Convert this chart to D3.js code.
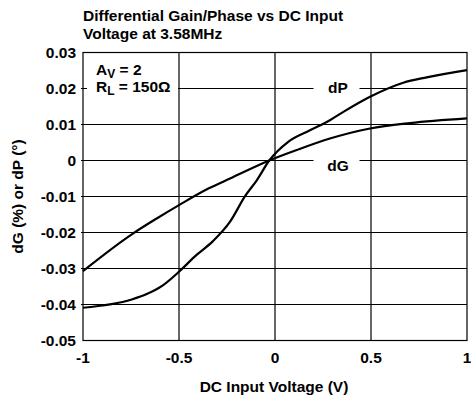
<!DOCTYPE html>
<html>
<head>
<meta charset="utf-8">
<script src="https://cdn.jsdelivr.net/npm/d3@7"></script>
<style>
  body { margin: 0; background: #fff; }
  text { font-family: "Liberation Sans", Arial, sans-serif; font-weight: bold; fill: #000; }
</style>
</head>
<body>
<div id="chart"></div>
<script>
// valores
const dgX = [-1, -0.746, -0.616, -0.5, -0.347, -0.234, -0.03, 0.113, 0.286, 0.495, 0.703, 1];
const dgY = [-0.0307, -0.0205, -0.0161, -0.0124, -0.0078, -0.005, 0, 0.0029, 0.0061, 0.0089, 0.0104, 0.0117];
const dpX = [-1, -0.746, -0.668, -0.59, -0.5, -0.41, -0.323, -0.234, -0.156, -0.095, -0.03, 0.069, 0.182, 0.286, 0.356, 0.495, 0.668, 0.79, 1];
const dpY = [-0.0409, -0.0386, -0.0371, -0.0349, -0.0309, -0.0263, -0.0224, -0.017, -0.0099, -0.0055, 0, 0.0052, 0.0084, 0.0112, 0.0135, 0.0177, 0.0216, 0.0231, 0.0251];
const xTicks = [-1, -0.5, 0, 0.5, 1];
const xTickLabels = ["-1", "-0.5", "0", "0.5", "1"];
const yTicks = [0.03, 0.02, 0.01, 0, -0.01, -0.02, -0.03, -0.04, -0.05];
const yTickLabels = ["0.03", "0.02", "0.01", "0", "-0.01", "-0.02", "-0.03", "-0.04", "-0.05"];

const W = 471, H = 400;
const m = { left: 83, right: 4, top: 52.5, bottom: 59.5 };

const svg = d3.select("#chart").append("svg")
    .attr("width", W).attr("height", H);

const x = d3.scaleLinear([-1, 1], [m.left, W - m.right]);
const y = d3.scaleLinear([-0.05, 0.03], [H - m.bottom, m.top]);

// grade
const grid = svg.append("g").attr("stroke", "#000").attr("stroke-width", 1.2);
grid.selectAll(".gx").data(xTicks.slice(1, -1)).join("line")
    .attr("x1", d => x(d)).attr("x2", d => x(d))
    .attr("y1", y(0.03)).attr("y2", y(-0.05));
grid.selectAll(".gy").data(yTicks.slice(1, -1)).join("line")
    .attr("x1", x(-1) - 2).attr("x2", x(1))
    .attr("y1", d => y(d)).attr("y2", d => y(d));

// caixas brancas atrás dos rótulos
svg.append("rect").attr("x", 87).attr("y", y(0.02) - 5).attr("width", x(-0.5) - 87 - 1).attr("height", 10).attr("fill", "#fff");
svg.append("rect").attr("x", 313.5).attr("y", y(0.02) - 5).attr("width", 46).attr("height", 10).attr("fill", "#fff");
svg.append("rect").attr("x", 313.5).attr("y", y(0) - 5).attr("width", 46).attr("height", 10).attr("fill", "#fff");

svg.append("rect")
    .attr("x", x(-1)).attr("y", y(0.03))
    .attr("width", x(1) - x(-1)).attr("height", y(-0.05) - y(0.03))
    .attr("fill", "none").attr("stroke", "#000").attr("stroke-width", 1.2);

// curvas
const line = d3.line().x(d => x(d[0])).y(d => y(d[1])).curve(d3.curveMonotoneX);
svg.append("path").datum(d3.zip(dgX, dgY)).attr("d", line)
    .attr("fill", "none").attr("stroke", "#000").attr("stroke-width", 2.2);
svg.append("path").datum(d3.zip(dpX, dpY)).attr("d", line)
    .attr("fill", "none").attr("stroke", "#000").attr("stroke-width", 2.2);

// rótulos dos eixos
const fs = 15.5;
svg.selectAll(".xt").data(xTicks).join("text")
    .attr("x", d => x(d)).attr("y", 363)
    .attr("text-anchor", "middle").attr("font-size", fs)
    .text((d, i) => xTickLabels[i]);
svg.selectAll(".yt").data(yTicks).join("text")
    .attr("x", 76).attr("y", d => y(d) + 5)
    .attr("text-anchor", "end").attr("font-size", fs)
    .text((d, i) => yTickLabels[i]);

svg.append("text").attr("x", 274).attr("y", 392)
    .attr("text-anchor", "middle").attr("font-size", fs)
    .text("DC Input Voltage (V)");
svg.append("text").attr("transform", `translate(23,${(y(0.03) + y(-0.05)) / 2}) rotate(-90)`)
    .attr("text-anchor", "middle").attr("font-size", fs)
    .text("dG (%) or dP (°)");

svg.append("text").attr("x", 83).attr("y", 21).attr("font-size", fs)
    .text("Differential Gain/Phase vs DC Input");
svg.append("text").attr("x", 83).attr("y", 39).attr("font-size", fs)
    .text("Voltage at 3.58MHz");

const av = svg.append("text").attr("x", 96).attr("y", 75).attr("font-size", fs);
av.append("tspan").text("A");
av.append("tspan").attr("font-size", 12).attr("dy", 3).text("V");
av.append("tspan").attr("dy", -3).text(" = 2");
const rl = svg.append("text").attr("x", 96).attr("y", 92).attr("font-size", fs);
rl.append("tspan").text("R");
rl.append("tspan").attr("font-size", 12).attr("dy", 3).text("L");
rl.append("tspan").attr("dy", -3).text(" = 150Ω");

svg.append("text").attr("x", 338).attr("y", 93)
    .attr("text-anchor", "middle").attr("font-size", fs).text("dP");
svg.append("text").attr("x", 338).attr("y", 170.5)
    .attr("text-anchor", "middle").attr("font-size", fs).text("dG");
</script>
</body>
</html>
